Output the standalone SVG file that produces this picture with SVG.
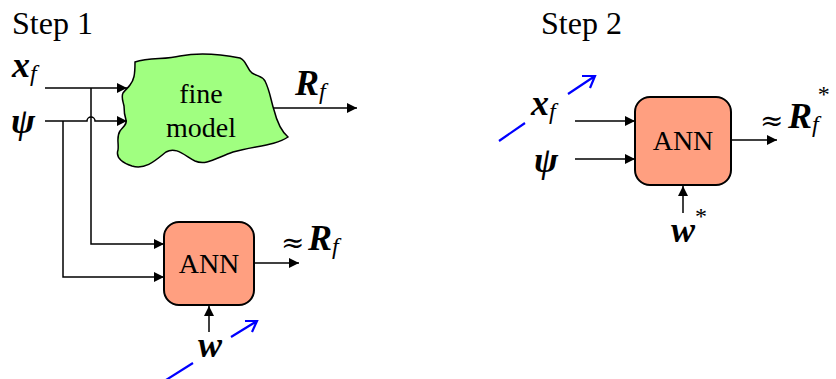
<svg xmlns="http://www.w3.org/2000/svg" width="836" height="379" viewBox="0 0 836 379">
<style>
.t{font-family:"Liberation Serif","Times New Roman",serif;fill:#000}
.h{font-size:32px}
.v{font-size:36px;font-weight:bold;font-style:italic}
.s{font-size:24px;font-style:italic;font-weight:normal}
.n{font-size:28px}
.ap{font-family:"DejaVu Serif",serif;font-size:28px}
.ln{fill:none;stroke:#000;stroke-width:1.5}
.bl{fill:none;stroke:#0000ff;stroke-width:2.2}
.ann{fill:#ff9f80;stroke:#000;stroke-width:2}
</style>
<defs>
<marker id="ah" viewBox="0 0 10 10" refX="10" refY="5" markerWidth="13" markerHeight="10" markerUnits="userSpaceOnUse" orient="auto">
<path d="M0,0 L10,5 L0,10 z" fill="#000"/>
</marker>
</defs>
<rect width="836" height="379" fill="#fff"/>
<text class="t h" x="12" y="34">Step 1</text>
<text class="t h" x="541" y="34">Step 2</text>

<g id="fine-model">
<path d="M135,62 C150,57 165,60 180,56 C200,52 225,55 240,58 C247,61 246,68 252,73 C259,77 262,76 265,81 C270,91 271,101 274,110 C277,122 281,131 288,137 C275,146 252,146 233,152 C216,158 206,166 195,161 C185,156 176,146 166,152 C156,160 146,170 132,166 C120,162 116,156 118,150 C119,143 116,137 120,131 C124,126 127,124 126,120 C124,114 124,110 124,106 C123,101 121,97 123,93 C126,89 128,88 130,85 C134,80 135,75 135,62 Z" fill="#a0ff80" stroke="#000" stroke-width="1.5"/>
<text class="t n" x="201" y="103" text-anchor="middle">fine</text>
<text class="t n" x="201" y="137" text-anchor="middle">model</text>
</g>

<g id="ann1">
<rect class="ann" x="164" y="222" width="90" height="83" rx="15"/>
<text class="t n" x="209" y="273" text-anchor="middle">ANN</text>
</g>

<g id="ann2">
<rect class="ann" x="635" y="97" width="96" height="88" rx="15"/>
<text class="t n" x="683" y="150" text-anchor="middle">ANN</text>
</g>

<g id="connectors">
<path class="ln" d="M45,88 H127" marker-end="url(#ah)"/>
<path class="ln" d="M45,121 H87 A4,4 0 0 1 95,121 H127" marker-end="url(#ah)"/>
<path class="ln" d="M91,88 V244 H164" marker-end="url(#ah)"/>
<path class="ln" d="M63,121 V277 H164" marker-end="url(#ah)"/>
<path class="ln" d="M273,108 H357" marker-end="url(#ah)"/>
<path class="ln" d="M254,263 H299" marker-end="url(#ah)"/>
<path class="ln" d="M209,332 V306" marker-end="url(#ah)"/>
<path class="ln" d="M575,121 H635" marker-end="url(#ah)"/>
<path class="ln" d="M575,159 H635" marker-end="url(#ah)"/>
<path class="ln" d="M731,140 H777" marker-end="url(#ah)"/>
<path class="ln" d="M683,213 V186" marker-end="url(#ah)"/>
<path class="bl" d="M166,380 L193,363 M231,337 L257,321 M245,321 L257,321 L252,332"/>
<path class="bl" d="M499,141 L525,123 M568,94 L595,76 M582,76 L595,76 L590,88"/>
</g>

<g id="labels">
<text class="t v" x="12" y="77">x<tspan class="s" dy="4">f</tspan></text>
<text class="t v" x="11" y="133">ψ</text>
<text class="t v" x="295" y="95">R<tspan class="s" dy="4">f</tspan></text>
<text class="t ap" x="281" y="252">≈</text>
<text class="t v" x="308" y="250">R<tspan class="s" dy="4">f</tspan></text>
<text class="t v" x="198" y="357">w</text>
<text class="t v" x="531" y="115">x<tspan class="s" dy="4">f</tspan></text>
<text class="t v" x="534" y="172">ψ</text>
<text class="t ap" x="760" y="130">≈</text>
<text class="t v" x="788" y="128">R<tspan class="s" dy="4">f</tspan><tspan class="s" dy="-30" dx="-1" style="font-style:normal">*</tspan></text>
<text class="t v" x="671" y="242">w<tspan class="s" dy="-18" style="font-style:normal">*</tspan></text>
</g>
</svg>
